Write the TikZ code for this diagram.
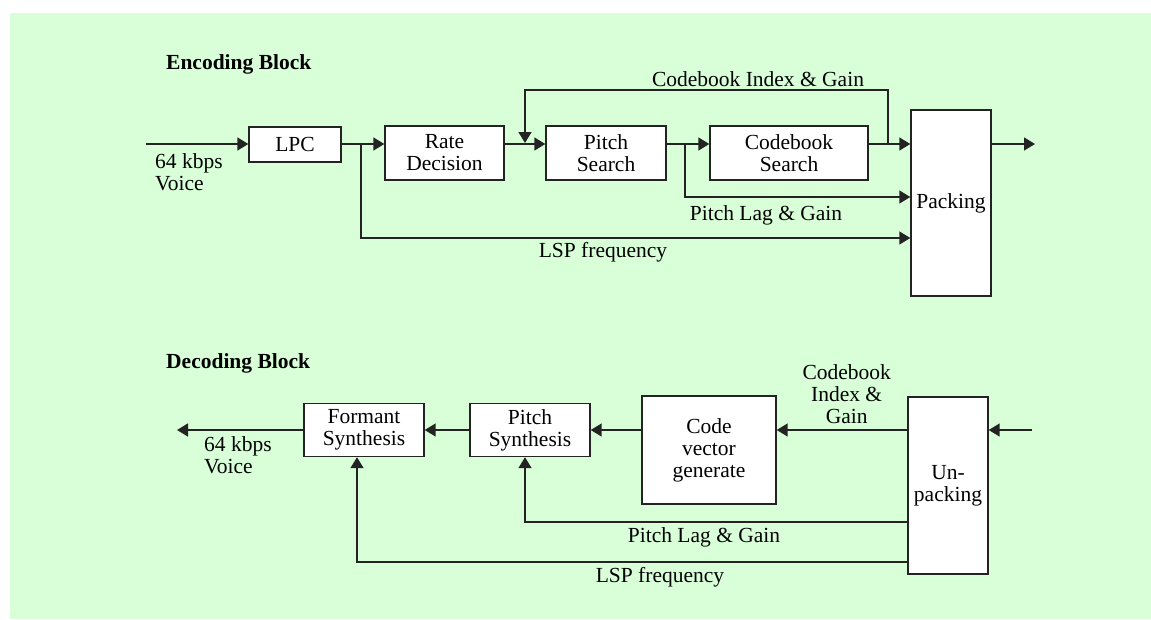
\documentclass[tikz,border=0pt]{standalone}
\usepackage{fontspec}
\setmainfont{Liberation Serif}
\usetikzlibrary{arrows.meta}
\definecolor{panel}{RGB}{216,255,216}
\definecolor{ink}{RGB}{35,35,35}
\tikzset{
  blk/.style={draw=ink, line width=1.4pt, fill=white, inner sep=0pt, align=center},
  wire/.style={draw=ink, line width=1.5pt},
  arr/.style={wire, -{Triangle[length=11pt,width=13pt]}},
  lbl/.style={inner sep=0pt, align=center},
  heading/.style={inner sep=0pt, anchor=west, font=\fontsize{21.5}{22}\selectfont\bfseries}
}
\begin{document}
\begin{tikzpicture}[x=1pt,y=-1pt,font=\fontsize{21.5}{22}\selectfont]
  \useasboundingbox (0,0) rectangle (1151,619);
  \fill[white] (0,0) rectangle (1151,619);
  \fill[panel] (10,13) rectangle (1151,619);

  % ---------------- encoder ----------------
  \node[heading] (enchead) at (166,64) {Encoding Block};

  \node[blk, minimum width=92pt,  minimum height=35pt]  (lpc)    at (295,144.5) {LPC};
  \node[blk, minimum width=119pt, minimum height=54pt]  (rate)   at (444.5,153) {Rate\\Decision};
  \node[blk, minimum width=120pt, minimum height=54pt]  (pitch)  at (606,153)   {Pitch\\Search};
  \node[blk, minimum width=158pt, minimum height=54pt]  (codes)  at (789,153)   {Codebook\\Search};
  \node[blk, minimum width=80pt,  minimum height=186pt] (pack)   at (951,203)   {Packing};

  \coordinate (sig)  at (0,144);
  \coordinate (ein)  at (146,144);
  \coordinate (eout) at (1035,144);
  \coordinate (lspb) at (361,144);
  \coordinate (lagb) at (685,144);
  \coordinate (fbr)  at (888,144);
  \coordinate (fbl)  at (525,143);
  \coordinate (fbtop) at (0,90);
  \coordinate (lagy) at (0,197);
  \coordinate (lspy) at (0,238);

  \draw[arr] (ein) -- (lpc.west |- ein);
  \draw[arr] (lpc.east |- sig) -- (rate.west |- sig);
  \draw[arr] (rate.east |- sig) -- (pitch.west |- sig);
  \draw[arr] (pitch.east |- sig) -- (codes.west |- sig);
  \draw[arr] (codes.east |- sig) -- (pack.west |- sig);
  \draw[arr] (pack.east |- sig) -- (eout);
  \draw[arr] (fbr) -- (fbr |- fbtop) -- (fbl |- fbtop) -- (fbl);
  \draw[arr] (lagb) |- (pack.west |- lagy);
  \draw[arr] (lspb) |- (pack.west |- lspy);

  \node[lbl, align=left, anchor=north west] (ein-l) at (155,153) {64 kbps\\Voice};
  \node[lbl] (cig-l)  at (758,79)  {Codebook Index \& Gain};
  \node[lbl] (plg-l)  at (766,215) {Pitch Lag \& Gain};
  \node[lbl] (lsp-l)  at (603,252) {LSP frequency};

  % ---------------- decoder ----------------
  \node[heading] (dechead) at (166,363) {Decoding Block};

  \node[blk, minimum width=120pt, minimum height=53pt]  (formant)  at (364,430)   {Formant\\Synthesis};
  \node[blk, minimum width=120pt, minimum height=53pt]  (pitchsyn) at (530,430)   {Pitch\\Synthesis};
  \node[blk, minimum width=134pt, minimum height=108pt] (codevec)  at (709,450)   {Code\\vector\\generate};
  \node[blk, minimum width=80pt,  minimum height=177pt] (unpack)   at (948,485.5) {Un-\\packing};

  \coordinate (dsig) at (0,430);
  \coordinate (din)  at (1032,430);
  \coordinate (dout) at (177,430);
  \coordinate (dlagy) at (0,522);
  \coordinate (dlspy) at (0,562);
  \coordinate (dlagx) at (525,0);
  \coordinate (dlspx) at (357,0);

  \draw[arr] (din) -- (unpack.east |- din);
  \draw[arr] (unpack.west |- dsig) -- (codevec.east |- dsig);
  \draw[arr] (codevec.west |- dsig) -- (pitchsyn.east |- dsig);
  \draw[arr] (pitchsyn.west |- dsig) -- (formant.east |- dsig);
  \draw[arr] (formant.west |- dsig) -- (dout);
  \draw[arr] (unpack.west |- dlagy) -| (dlagx |- pitchsyn.south);
  \draw[arr] (unpack.west |- dlspy) -| (dlspx |- formant.south);

  \node[lbl, align=left, anchor=north west] (dout-l) at (204,436) {64 kbps\\Voice};
  \node[lbl] (dcig-l) at (846.7,394) {Codebook\\Index \&\\Gain};
  \node[lbl] (dplg-l) at (704,537)   {Pitch Lag \& Gain};
  \node[lbl] (dlsp-l) at (660,577)   {LSP frequency};
\end{tikzpicture}
\end{document}
